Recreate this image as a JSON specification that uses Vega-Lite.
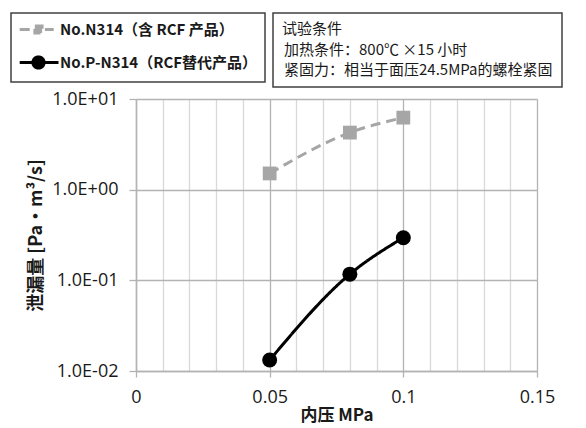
{
  "$schema": "https://vega.github.io/schema/vega-lite/v6.json",
  "width": 401,
  "height": 272,
  "autosize": {"type": "none"},
  "padding": {"left": 136, "top": 99, "right": 49, "bottom": 57},
  "background": "white",
  "config": {
    "view": {"stroke": null},
    "font": "Open Sans, Noto Sans CJK SC",
    "axis": {"labelColor": "#1a1a1a", "titleColor": "#1a1a1a"}
  },
  "resolve": {"axis": {"x": "independent"}},
  "datasets": {
    "series": [
      {"series": "No.N314（含 RCF 产品）", "p": 0.05, "leak": 1.51},
      {"series": "No.N314（含 RCF 产品）", "p": 0.08, "leak": 4.26},
      {"series": "No.N314（含 RCF 产品）", "p": 0.10, "leak": 6.23},
      {"series": "No.P-N314（RCF替代产品）", "p": 0.05, "leak": 0.0132},
      {"series": "No.P-N314（RCF替代产品）", "p": 0.08, "leak": 0.117},
      {"series": "No.P-N314（RCF替代产品）", "p": 0.10, "leak": 0.295}
    ],
    "conditions": [
      {"cond": "加热条件：800℃ ×15 小时"},
      {"cond": "紧固力：相当于面压24.5MPa的螺栓紧固"}
    ]
  },
  "layer": [
    {
      "data": {"name": "series"},
      "mark": {"type": "line", "interpolate": "monotone", "strokeWidth": 3},
      "encoding": {
        "x": {
          "field": "p", "type": "quantitative",
          "scale": {"domain": [0, 0.15], "nice": false, "zero": false},
          "axis": {
            "orient": "top",
            "values": [0.01, 0.02, 0.03, 0.04, 0.06, 0.07, 0.08, 0.09, 0.11, 0.12, 0.13, 0.14],
            "labels": false,
            "ticks": false,
            "domain": false,
            "grid": true,
            "gridColor": "#d9d9d9",
            "gridWidth": 1.3,
            "title": null
          }
        },
        "y": {
          "field": "leak", "type": "quantitative",
          "scale": {"type": "log", "domain": [0.01, 10], "nice": false},
          "axis": {
            "values": [0.01, 0.1, 1, 10],
            "labelExpr": "'1.0E' + (datum.value >= 1 ? '+' : '-') + '0' + abs(round(log(datum.value)/LN10))",
            "grid": true,
            "gridColor": "#b3b3b3",
            "gridWidth": 1.3,
            "tickColor": "#b3b3b3",
            "tickSize": 7,
            "tickWidth": 1.3,
            "domainColor": "#b3b3b3",
            "domainWidth": 1.5,
            "labelFontSize": 18,
            "labelPadding": 11,
            "labelFlush": false,
            "labelOverlap": false,
            "title": "泄漏量 [Pa·m³/s]",
            "titleFont": "Noto Sans CJK SC",
            "titleFontSize": 18,
            "titleFontWeight": "bold",
            "titlePadding": 6
          }
        },
        "color": {
          "field": "series", "type": "nominal",
          "scale": {"domain": ["No.N314（含 RCF 产品）", "No.P-N314（RCF替代产品）"], "range": ["#a6a6a6", "#000000"]},
          "legend": {
            "orient": "none",
            "legendX": -125,
            "legendY": -86,
            "title": null,
            "padding": 7,
            "strokeColor": "#404040",
            "labelFont": "Noto Sans CJK SC",
            "labelFontSize": 15,
            "labelFontWeight": "bold",
            "labelColor": "#1a1a1a",
            "labelLimit": 400,
            "symbolSize": 256,
            "symbolStrokeWidth": 3,
            "symbolOffset": 11,
            "labelOffset": 12,
            "rowPadding": 10,
            "encode": {
              "legend": {"update": {"strokeWidth": {"value": 1.5}}},
              "symbols": {
                "update": {
                  "shape": {"signal": "datum.index == 0 ? 'M-2.35,0L-0.8,0M0.8,0L1.9,0M-0.45,-0.45L0.45,-0.45L0.45,0.45L-0.45,0.45Z' : 'M-2.35,0L2.5,0M0.7,0A0.7,0.7 0 1,1 -0.7,0A0.7,0.7 0 1,1 0.7,0Z'"},
                  "fill": {"signal": "datum.index == 0 ? '#a6a6a6' : '#000000'"},
                  "stroke": {"signal": "datum.index == 0 ? '#a6a6a6' : '#000000'"},
                  "strokeWidth": {"value": 3},
                  "strokeDash": {"value": [1, 0]},
                  "opacity": {"value": 1},
                  "fillOpacity": {"value": 1},
                  "strokeOpacity": {"value": 1}
                }
              }
            }
          }
        },
        "strokeDash": {
          "field": "series", "type": "nominal",
          "scale": {"domain": ["No.N314（含 RCF 产品）", "No.P-N314（RCF替代产品）"], "range": [[10, 6], [1, 0]]},
          "legend": null
        }
      }
    },
    {
      "data": {"name": "series"},
      "transform": [{"filter": {"field": "series", "equal": "No.N314（含 RCF 产品）"}}],
      "mark": {"type": "point", "filled": true, "opacity": 1, "shape": "square", "size": 190},
      "encoding": {
        "x": {
          "field": "p", "type": "quantitative",
          "axis": {
            "orient": "bottom",
            "values": [0, 0.05, 0.1, 0.15],
            "labelExpr": "format(datum.value, '~g')",
            "grid": true,
            "gridColor": "#b3b3b3",
            "gridWidth": 1.3,
            "tickColor": "#b3b3b3",
            "tickSize": 6,
            "tickWidth": 1.3,
            "domainColor": "#b3b3b3",
            "domainWidth": 1.5,
            "labelFontSize": 18,
            "labelPadding": 11,
            "labelFlush": false,
            "labelOverlap": false,
            "title": "内压 MPa",
            "titleFont": "Noto Sans CJK SC",
            "titleFontSize": 17,
            "titleFontWeight": "bold",
            "titlePadding": 1
          }
        },
        "y": {"field": "leak", "type": "quantitative"},
        "color": {"field": "series", "type": "nominal"}
      }
    },
    {
      "data": {"name": "series"},
      "transform": [{"filter": {"field": "series", "equal": "No.P-N314（RCF替代产品）"}}],
      "mark": {"type": "point", "filled": true, "opacity": 1, "shape": "circle", "size": 225},
      "encoding": {
        "x": {"field": "p", "type": "quantitative", "axis": null},
        "y": {"field": "leak", "type": "quantitative"},
        "color": {"field": "series", "type": "nominal"}
      }
    },
    {
      "data": {"name": "conditions"},
      "mark": {"type": "point", "size": 0, "opacity": 0, "filled": true},
      "encoding": {
        "fill": {
          "field": "cond", "type": "nominal",
          "scale": {"domain": ["加热条件：800℃ ×15 小时", "紧固力：相当于面压24.5MPa的螺栓紧固"], "range": ["#ffffff", "#ffffff"]},
          "legend": {
            "orient": "none",
            "legendX": 137,
            "legendY": -86,
            "title": "试验条件",
            "titleFont": "Noto Sans CJK SC",
            "titleFontSize": 15,
            "titleFontWeight": "normal",
            "titleColor": "#1a1a1a",
            "titlePadding": 5,
            "labelFont": "Noto Sans CJK SC",
            "labelFontSize": 15,
            "labelColor": "#1a1a1a",
            "labelLimit": 400,
            "symbolSize": 0,
            "symbolStrokeWidth": 0,
            "symbolOpacity": 0,
            "labelOffset": -13,
            "rowPadding": 4,
            "padding": 9,
            "strokeColor": "#404040",
            "encode": {"legend": {"update": {"strokeWidth": {"value": 1.5}}}}
          }
        }
      }
    }
  ]
}
